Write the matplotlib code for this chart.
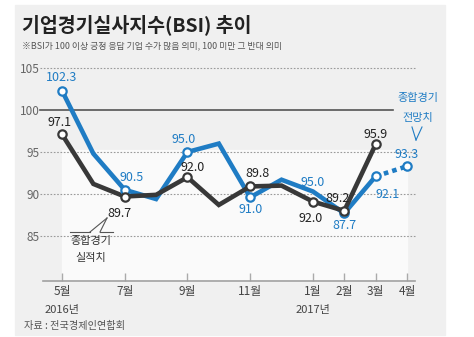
import matplotlib.pyplot as plt
from matplotlib.lines import Line2D
from matplotlib.patches import Rectangle

plt.rcParams['font.family'] = ['Noto Sans CJK KR', 'DejaVu Sans']

# monthly data, May 2016 .. Apr 2017
months = ['5월', '6월', '7월', '8월', '9월', '10월', '11월', '12월', '1월', '2월', '3월', '4월']
tick_idx = [0, 2, 4, 6, 8, 9, 10, 11]
years = {0: '2016년', 8: '2017년'}

forecast = [102.3, 94.8, 90.5, 89.4, 95.0, 96.0, 89.6, 91.7, 90.3, 87.7, 92.1, 93.3]
actual = [97.1, 91.2, 89.7, 89.9, 92.0, 88.7, 90.9, 91.0, 89.1, 88.0, 95.9]

forecast_marked = [0, 2, 4, 6, 9, 10, 11]
actual_marked = [0, 2, 4, 6, 8, 9, 10]

forecast_labels = {0: '102.3', 2: '90.5', 4: '95.0', 6: '91.0', 8: '95.0', 9: '87.7', 10: '92.1', 11: '93.3'}
actual_labels = {0: '97.1', 2: '89.7', 4: '92.0', 6: '89.8', 8: '92.0', 9: '89.2', 10: '95.9'}

# label offsets in pixels (dx, dy up)
forecast_off = {0: (0, 13), 2: (7, 12), 4: (-4, 13), 6: (0, -12), 8: (0, 9), 9: (0, -12), 10: (12, -18), 11: (0, 12)}
actual_off = {0: (-2, 12), 2: (-5, -17), 4: (5, 10), 6: (7, 13), 8: (-2, -17), 9: (-7, 12), 10: (0, 10)}

BLUE = '#1f7cc4'
DARK = '#383838'

W, H = 474, 337
fig = plt.figure(figsize=(W / 100, H / 100), dpi=100)


def px(x, y):
    return x / W, 1 - y / H


# backgrounds
fig.patches.append(Rectangle(px(15, 335), 430 / W, 330 / H, transform=fig.transFigure,
                             color='#f0f0f0', zorder=-3))
fig.patches.append(Rectangle(px(62, 281), 345 / W, 131 / H, transform=fig.transFigure,
                             color='#fafafa', zorder=-2))

ax = fig.add_axes([43.2 / W, 56 / H, 371.6 / W, 221.4 / H])
ax.set_facecolor('none')
ax.set_xlim(-0.6, 11.25)
ax.set_ylim(79.643, 106)

for v in [85, 90, 95, 105]:
    ax.axhline(v, xmin=-0.009, xmax=1, color='#9a9a9a', lw=0.8, ls=(0, (1.5, 1.5)),
               clip_on=False, zorder=1)
ax.axhline(100, xmin=-0.009, xmax=0.941, color='#555555', lw=1.2, clip_on=False, zorder=1)

x_f = list(range(len(forecast)))
x_a = list(range(len(actual)))

ax.plot(x_f[:11], forecast[:11], color=BLUE, lw=3.3, solid_joinstyle='miter', zorder=3)
ax.plot(x_f[10:], forecast[10:], color=BLUE, lw=3.3, ls=(0, (1, 0.9)), zorder=3)
ax.plot(x_a, actual, color=DARK, lw=3.3, solid_joinstyle='miter', zorder=4)

ax.plot([i for i in forecast_marked], [forecast[i] for i in forecast_marked], 'o', ms=6,
        mfc='white', mec=BLUE, mew=1.6, zorder=5)
ax.plot([i for i in actual_marked], [actual[i] for i in actual_marked], 'o', ms=6,
        mfc='white', mec=DARK, mew=1.6, zorder=5)

for i, t in forecast_labels.items():
    dx, dy = forecast_off[i]
    ax.annotate(t, (i, forecast[i]), xytext=(dx * 0.72, dy * 0.72), textcoords='offset points',
                ha='center', va='center', color=BLUE, fontsize=9, zorder=6)
for i, t in actual_labels.items():
    dx, dy = actual_off[i]
    ax.annotate(t, (i, actual[i]), xytext=(dx * 0.72, dy * 0.72), textcoords='offset points',
                ha='center', va='center', color='#222222', fontsize=9, zorder=6)

for s in ['top', 'right', 'left']:
    ax.spines[s].set_visible(False)
ax.spines['bottom'].set_color('#a0a0a0')
ax.spines['bottom'].set_linewidth(1.2)

ax.set_yticks([85, 90, 95, 100, 105])
ax.tick_params(axis='y', length=0, pad=2.5, labelsize=8.5, labelcolor='#666666')
ax.set_xticks(tick_idx)
ax.set_xticklabels([months[i] for i in tick_idx])
ax.tick_params(axis='x', direction='in', length=6, width=1, color='#aaaaaa', pad=3,
               labelsize=8.5, labelcolor='#444444')
for i, y in years.items():
    ax.annotate(y, (i, 0), xycoords=ax.get_xaxis_transform(), xytext=(0, -29 * 0.72),
                textcoords='offset points', ha='center', va='center', fontsize=8,
                color='#444444')

# titles
fig.text(*px(22, 25), '기업경기실사지수(BSI) 추이', fontsize=14, fontweight='bold',
         color='#222222', va='center', ha='left')
fig.text(*px(22, 46), '※BSI가 100 이상 긍정 응답 기업 수가 많음 의미, 100 미만 그 반대 의미',
         fontsize=6.4, color='#555555', va='center', ha='left')
fig.text(*px(24, 326), '자료 : 전국경제인연합회', fontsize=7.3, color='#555555', va='center', ha='left')

# callouts
fig.text(*px(91, 241), '종합경기', fontsize=8, color='#333333', ha='center', va='center')
fig.text(*px(91, 258), '실적치', fontsize=8, color='#333333', ha='center', va='center')
for seg in [[(70, 232), (90, 232)], [(100, 232), (113, 232)],
            [(90, 232), (107, 218)], [(100, 232), (107, 218)]]:
    (x0, y0), (x1, y1) = seg
    fig.add_artist(Line2D([x0 / W, x1 / W], [1 - y0 / H, 1 - y1 / H], transform=fig.transFigure,
                          color='#555555', lw=0.8))

fig.text(*px(418, 98), '종합경기', fontsize=8, color=BLUE, ha='center', va='center')
fig.text(*px(418, 118), '전망치', fontsize=8, color=BLUE, ha='center', va='center')
for seg in [[(412, 127), (416, 140)], [(422, 127), (416, 140)]]:
    (x0, y0), (x1, y1) = seg
    fig.add_artist(Line2D([x0 / W, x1 / W], [1 - y0 / H, 1 - y1 / H], transform=fig.transFigure,
                          color=BLUE, lw=0.8))

fig.savefig('out.png', dpi=100)
